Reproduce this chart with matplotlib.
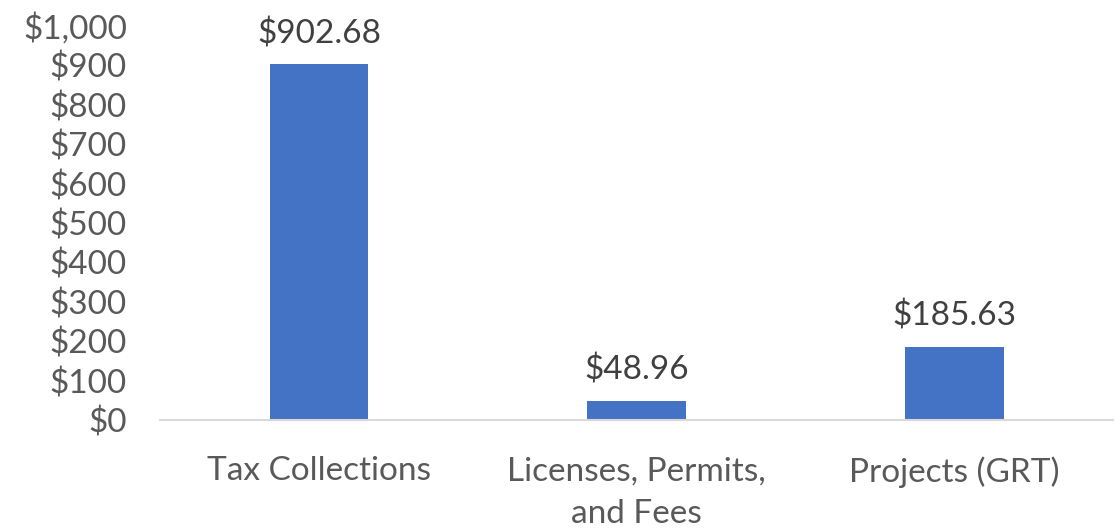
import numpy as np
import matplotlib.pyplot as plt

categories = ['Tax Collections', 'Licenses, Permits,\nand Fees', 'Projects (GRT)']
values = [902.68, 48.96, 185.63]
yticks = [0, 100, 200, 300, 400, 500, 600, 700, 800, 900, 1000]

plt.rcParams['font.family'] = ['Lato', 'DejaVu Sans']

fig = plt.figure(figsize=(11.2, 5.3), dpi=100)
ax = fig.add_axes([0.143, 0.2075, 0.851, 0.7435])

x = np.arange(len(categories))
ax.bar(x, values, width=0.31, color='#4472c4')

for xi, v in zip(x, values):
	ax.text(xi, v + 38, '${:,.2f}'.format(v), ha='center', va='bottom', fontsize=24, color='#404040')

ax.set_xlim(-0.5, len(categories) - 0.5)
ax.set_ylim(0, 1000)
ax.set_yticks(yticks)
ax.set_yticklabels(['${:,}'.format(t) for t in yticks])
ax.set_xticks(x)
ax.set_xticklabels(categories, linespacing=1.55)

ax.tick_params(axis='both', length=0, labelsize=24, labelcolor='#595959')
ax.tick_params(axis='x', pad=26)
ax.tick_params(axis='y', pad=24)

for s in ['top', 'right', 'left']:
	ax.spines[s].set_visible(False)
ax.spines['bottom'].set_color('#d9d9d9')
ax.spines['bottom'].set_linewidth(1.5)

fig.savefig('out.png', dpi=100)
